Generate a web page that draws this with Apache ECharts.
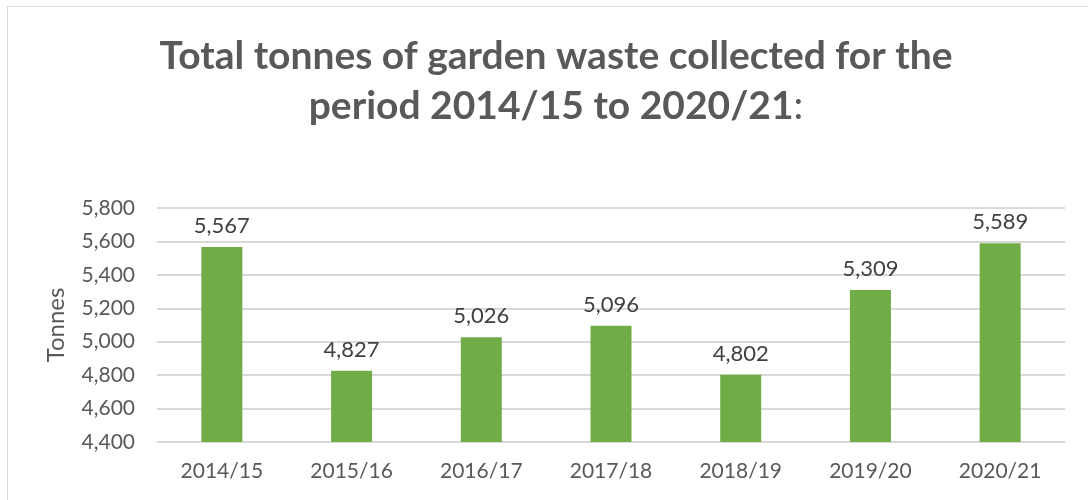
<!DOCTYPE html>
<html>
<head>
<meta charset="utf-8">
<script src="https://cdn.jsdelivr.net/npm/echarts@6/dist/echarts.min.js"></script>
<style>
  html, body { margin: 0; padding: 0; background: #fff; }
  #chart { width: 1088px; height: 500px; }
</style>
</head>
<body>
<div id="chart"></div>
<script>
const years = ['2014/15', '2015/16', '2016/17', '2017/18', '2018/19', '2019/20', '2020/21'];
const tonnes = [5567, 4827, 5026, 5096, 4802, 5309, 5589];

const chart = echarts.init(document.getElementById('chart'));
const fmt = (v) => v.toLocaleString('en-GB');

chart.setOption({
  backgroundColor: '#fff',
  textStyle: { fontFamily: 'Lato' },
  graphic: [{
    type: 'rect',
    shape: { x: 7.5, y: 6.5, width: 1100, height: 520 },
    style: { fill: 'none', stroke: '#d9d9d9', lineWidth: 1 },
    silent: true
  }],
  title: {
    text: '{b|Total tonnes of garden waste collected for the}\n{b|period 2014/15 to 2020/21}{n|:}',
    left: 551,
    top: 26,
    textAlign: 'center',
    textStyle: {
      rich: {
        b: { fontFamily: 'Lato', fontSize: 39, fontWeight: 'bold', color: '#595959', lineHeight: 50 },
        n: { fontFamily: 'Lato', fontSize: 39, fontWeight: 'normal', color: '#595959', lineHeight: 50 }
      }
    }
  },
  grid: { left: 157, right: 23, top: 208, bottom: 58 },
  xAxis: {
    type: 'category',
    data: years,
    axisLine: { show: false },
    axisTick: { show: false },
    axisLabel: { color: '#595959', fontSize: 21, margin: 19 }
  },
  yAxis: {
    type: 'value',
    min: 4400,
    max: 5800,
    interval: 200,
    name: 'Tonnes',
    nameLocation: 'middle',
    nameGap: 89,
    nameTextStyle: { color: '#595959', fontSize: 24 },
    axisLine: { show: false },
    axisTick: { show: false },
    axisLabel: { color: '#595959', fontSize: 21, margin: 22, formatter: fmt },
    splitLine: { lineStyle: { color: '#d9d9d9', width: 2 } }
  },
  series: [{
    type: 'bar',
    data: tonnes,
    barWidth: 41,
    itemStyle: { color: '#70ad47' },
    label: {
      show: true,
      position: 'top',
      distance: 10,
      color: '#404040',
      fontSize: 22,
      formatter: (p) => fmt(p.value)
    }
  }]
});
</script>
</body>
</html>
